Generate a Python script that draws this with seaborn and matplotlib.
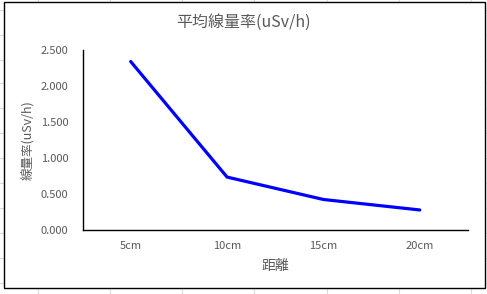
import matplotlib
matplotlib.use("Agg")
import matplotlib.pyplot as plt
import seaborn as sns
import pandas as pd
from matplotlib.patches import Rectangle
from matplotlib.lines import Line2D

categories = ["5cm", "10cm", "15cm", "20cm"]
values = [2.34, 0.73, 0.418, 0.272]
yticks = [0.0, 0.5, 1.0, 1.5, 2.0, 2.5]

sns.set_theme(style="white")
plt.rcParams['font.family'] = ['Noto Sans CJK JP', 'DejaVu Sans']

W, H = 487, 294
fig = plt.figure(figsize=(W / 100, H / 100), dpi=100)
fig.patch.set_facecolor("white")

# faint spreadsheet gridlines behind the chart
for x in [38, 110, 182, 254, 327, 399, 471]:
    fig.add_artist(Line2D([x / W, x / W], [0, 1], transform=fig.transFigure,
                          color="#d9d9d9", lw=0.8, zorder=0))
for y in [10, 35, 60, 83, 108, 133, 158, 183, 208, 233, 258, 283]:
    fig.add_artist(Line2D([0, 1], [1 - y / H, 1 - y / H], transform=fig.transFigure,
                          color="#d9d9d9", lw=0.8, zorder=0))
fig.add_artist(Rectangle((3.5 / W, 1 - 287.5 / H), 481 / W, 285.5 / H,
                         transform=fig.transFigure, facecolor="white",
                         edgecolor="black", lw=1.0, zorder=0.5))

ax = fig.add_axes([82.5 / W, 1 - 229.5 / H, (468 - 82.5) / W, (229.5 - 50) / H])
ax.set_facecolor("none")
ax.set_zorder(1)

df = pd.DataFrame({"距離": categories, "値": values})
sns.lineplot(data=df, x="距離", y="値", ax=ax, sort=False, color="#0000FF", lw=2.3)

ax.set_xlim(-0.5, 3.5)
ax.set_ylim(0, 2.5)
ax.set_yticks(yticks)
ax.set_yticklabels([f"{v:.3f}" for v in yticks])
ax.tick_params(axis="both", length=0, labelsize=8, colors="#595959")
ax.tick_params(axis="y", pad=10)
ax.tick_params(axis="x", pad=8)
for s in ["top", "right"]:
    ax.spines[s].set_visible(False)
for s in ["left", "bottom"]:
    ax.spines[s].set_color("black")
    ax.spines[s].set_linewidth(1.0)

ax.set_xlabel("距離", fontsize=10, color="#595959", labelpad=6)
ax.set_ylabel("線量率(uSv/h)", fontsize=9, color="#595959", labelpad=4)
fig.text(243.5 / W, 1 - 22 / H, "平均線量率(uSv/h)", ha="center", va="center",
         fontsize=11.5, color="#595959")

fig.savefig("out.png", dpi=100)
